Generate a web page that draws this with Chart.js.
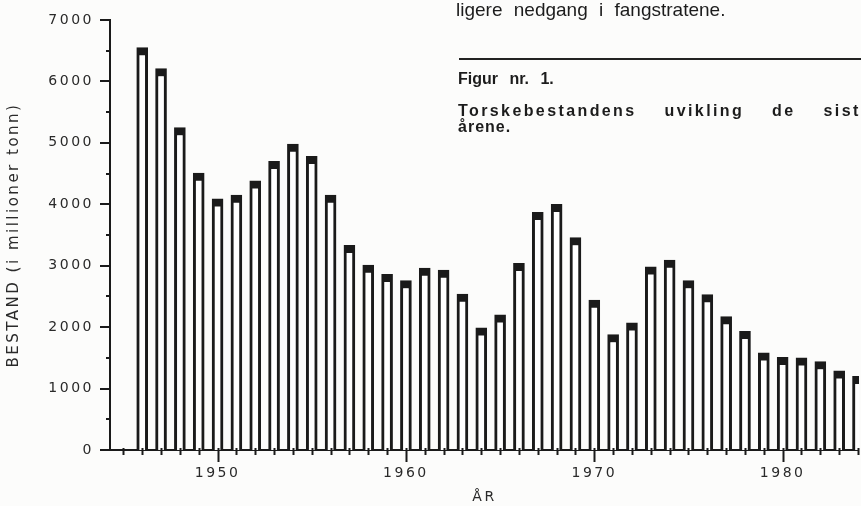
<!DOCTYPE html>
<html>
<head>
<meta charset="utf-8">
<script src="https://cdn.jsdelivr.net/npm/chart.js@4/dist/chart.umd.min.js"></script>
<style>
  html, body { margin: 0; padding: 0; background: #fcfcfb; }
  body { width: 861px; height: 506px; position: relative; overflow: hidden; }
  #chart { position: absolute; left: 0; top: 0; }
  .txt { position: absolute; color: #1c1c1c; font-family: "Liberation Sans", Arial, sans-serif; white-space: nowrap; }
  #para { left: 456px; top: -1px; font-size: 19px; word-spacing: 6px; }
  #rule { position: absolute; left: 459px; top: 58px; width: 402px; height: 2px; background: #222; }
  #fig { left: 458px; top: 70px; font-size: 16px; font-weight: bold; word-spacing: 7px; }
  #cap1 { left: 458px; top: 102px; width: 414px; font-size: 16px; font-weight: bold; letter-spacing: 2.4px;
          white-space: normal; text-align: justify; text-align-last: justify; }
  #cap2 { left: 458px; top: 118px; font-size: 16px; font-weight: bold; letter-spacing: 1px; }
</style>
</head>
<body>
<canvas id="chart" width="861" height="506"></canvas>
<div class="txt" id="para">ligere nedgang i fangstratene.</div>
<div id="rule"></div>
<div class="txt" id="fig">Figur nr. 1.</div>
<div class="txt" id="cap1">Torskebestandens uvikling de siste</div>
<div class="txt" id="cap2">årene.</div>
<script>
// Bestand per år (millioner tonn), lest av figuren
const years = [1946, 1947, 1948, 1949, 1950, 1951, 1952, 1953, 1954, 1955,
               1956, 1957, 1958, 1959, 1960, 1961, 1962, 1963, 1964, 1965,
               1966, 1967, 1968, 1969, 1970, 1971, 1972, 1973, 1974, 1975,
               1976, 1977, 1978, 1979, 1980, 1981, 1982, 1983, 1984];
const bestand = [6550, 6210, 5250, 4510, 4090, 4150, 4380, 4700, 4980, 4780,
                 4150, 3330, 3010, 2860, 2760, 2960, 2930, 2540, 1990, 2200,
                 3040, 3870, 4000, 3460, 2440, 1880, 2070, 2980, 3090, 2760,
                 2530, 2170, 1930, 1580, 1510, 1500, 1440, 1290, 1200];
const yearLabels = [1950, 1960, 1970, 1980];
const yLabels = [0, 1000, 2000, 3000, 4000, 5000, 6000, 7000];

const ink = '#1a1a1a';

// plotter-style tick marks: long at labelled values, short between
const plotterTicks = {
    id: 'plotterTicks',
    beforeInit(chart) { chart.ctx.letterSpacing = '2.5px'; },
    beforeDraw(chart) { chart.ctx.letterSpacing = '2.5px'; },
    afterDraw(chart) {
        const ctx = chart.ctx, xs = chart.scales.x, ys = chart.scales.y;
        ctx.save();
        ctx.strokeStyle = ink;
        ctx.lineWidth = 2;
        ctx.beginPath();
        xs.ticks.forEach(t => {
            const px = Math.round(xs.getPixelForValue(t.value)) + 0.5;
            const len = yearLabels.includes(t.value) ? 12 : 5;
            ctx.moveTo(px, ys.bottom - 2);
            ctx.lineTo(px, ys.bottom + len);
        });
        ys.ticks.forEach(t => {
            const py = Math.round(ys.getPixelForValue(t.value));
            const len = yLabels.includes(t.value) ? 10 : 4;
            ctx.moveTo(xs.left - len, py);
            ctx.lineTo(xs.left, py);
        });
        ctx.stroke();
        ctx.restore();
    }
};

new Chart(document.getElementById('chart'), {
    type: 'bar',
    data: {
        datasets: [{
            data: years.map((y, i) => ({ x: y, y: bestand[i] })),
            backgroundColor: '#ffffff',
            borderColor: ink,
            borderWidth: { top: 8, left: 3, right: 3, bottom: 0 },
            borderSkipped: false,
            barThickness: 11
        }]
    },
    options: {
        responsive: false,
        animation: false,
        devicePixelRatio: 1,
        layout: { padding: { top: 20, right: 0, left: 0, bottom: 0 } },
        plugins: { legend: { display: false }, tooltip: { enabled: false } },
        scales: {
            x: {
                type: 'linear',
                offset: false,
                min: 1944.29,
                max: 1984.05,
                afterFit: s => { s.height = 56; },
                grid: { display: false, drawTicks: true, tickLength: 12 },
                border: { display: true, color: ink, width: 2 },
                ticks: {
                    stepSize: 1,
                    includeBounds: false,
                    autoSkip: false,
                    maxRotation: 0,
                    padding: 3,
                    color: '#2a2a2a',
                    font: { family: 'DejaVu Sans', size: 14 },
                    callback: v => yearLabels.includes(v) ? String(v) : ''
                },
                title: {
                    display: true, text: 'ÅR', color: '#2a2a2a',
                    font: { family: 'DejaVu Sans', size: 14 },
                    padding: { top: 0, bottom: 0 }
                }
            },
            y: {
                min: 0,
                max: 7000,
                afterFit: s => { s.width = 110; },
                grid: { display: false, drawTicks: true, tickLength: 10 },
                border: { display: true, color: ink, width: 2 },
                ticks: {
                    stepSize: 500,
                    padding: 6,
                    color: '#2a2a2a',
                    font: { family: 'DejaVu Sans', size: 14 },
                    callback: v => yLabels.includes(v) ? String(v) : ''
                },
                title: {
                    display: true, text: 'BESTAND (i millioner tonn)', color: '#2a2a2a',
                    font: { family: 'DejaVu Sans', size: 15 },
                    padding: { top: 5, bottom: 0 }
                }
            }
        }
    },
    plugins: [plotterTicks]
});
</script>
</body>
</html>
